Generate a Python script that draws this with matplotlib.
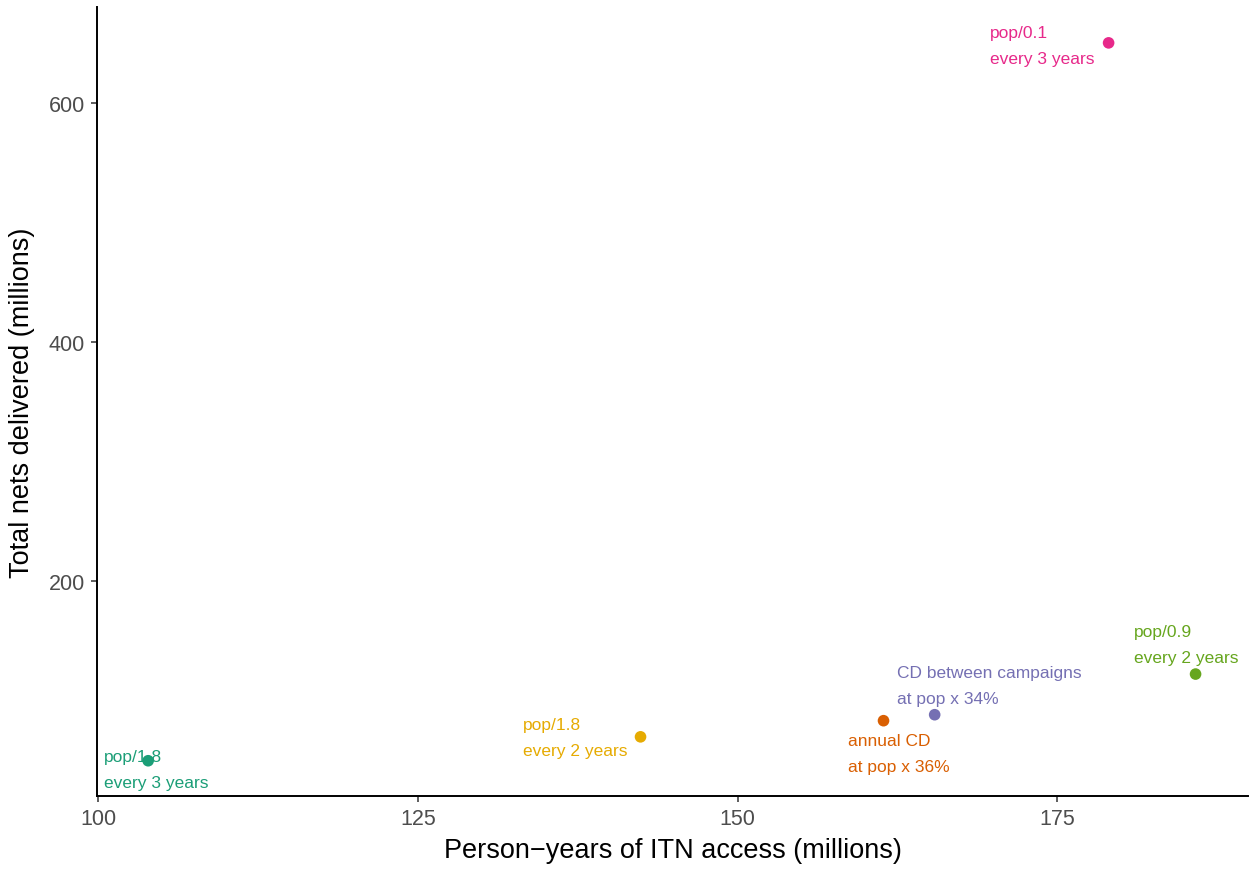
import matplotlib
matplotlib.use('Agg')
import matplotlib.pyplot as plt

plt.rcParams['font.family'] = ['Liberation Sans', 'DejaVu Sans']

# Data
person_years = [103.9, 142.4, 161.4, 165.4, 185.8, 179.0]
nets_delivered = [49.5, 69.5, 83.0, 88.0, 122.0, 650.0]
labels = [
    'pop/1.8\nevery 3 years',
    'pop/1.8\nevery 2 years',
    'annual CD\nat pop x 36%',
    'CD between campaigns\nat pop x 34%',
    'pop/0.9\nevery 2 years',
    'pop/0.1\nevery 3 years',
]
colors = ['#1B9E77', '#E6AB02', '#D95F02', '#7570B3', '#66A61E', '#E7298A']

# label placement (data coords) and alignment
label_x = [100.45, 141.4, 158.6, 162.45, 181.0, 169.7]
label_y = [42.0, 69.0, 55.5, 112.5, 147.0, 648.0]
label_ha = ['left', 'right', 'left', 'left', 'left', 'left']

fig = plt.figure(figsize=(12.5, 8.7), dpi=100)
ax = fig.add_axes([0.0776, 0.0839, 0.9208, 0.9069])

ax.scatter(person_years, nets_delivered, c=colors, s=70, zorder=3, linewidths=0)

for x, y, t, c, ha in zip(label_x, label_y, labels, colors, label_ha):
    ax.text(x, y, t, color=c, fontsize=12.5, ha=ha, va='center',
            multialignment='left', linespacing=1.9)

ax.set_xlim(99.9, 189.9)
ax.set_ylim(20, 680)
ax.set_xticks([100, 125, 150, 175])
ax.set_yticks([200, 400, 600])

for side in ['top', 'right']:
    ax.spines[side].set_visible(False)
for side in ['left', 'bottom']:
    ax.spines[side].set_linewidth(1.4)
    ax.spines[side].set_color('black')

ax.tick_params(length=4.5, width=1.1, color='#333333', labelcolor='#4D4D4D', labelsize=15.5, pad=4)

ax.set_xlabel('Person\u2212years of ITN access (millions)', fontsize=19.5, color='black', labelpad=6)
ax.set_ylabel('Total nets delivered (millions)', fontsize=19.5, color='black', labelpad=10)

fig.savefig('out.png', dpi=100, facecolor='white')
plt.close(fig)
